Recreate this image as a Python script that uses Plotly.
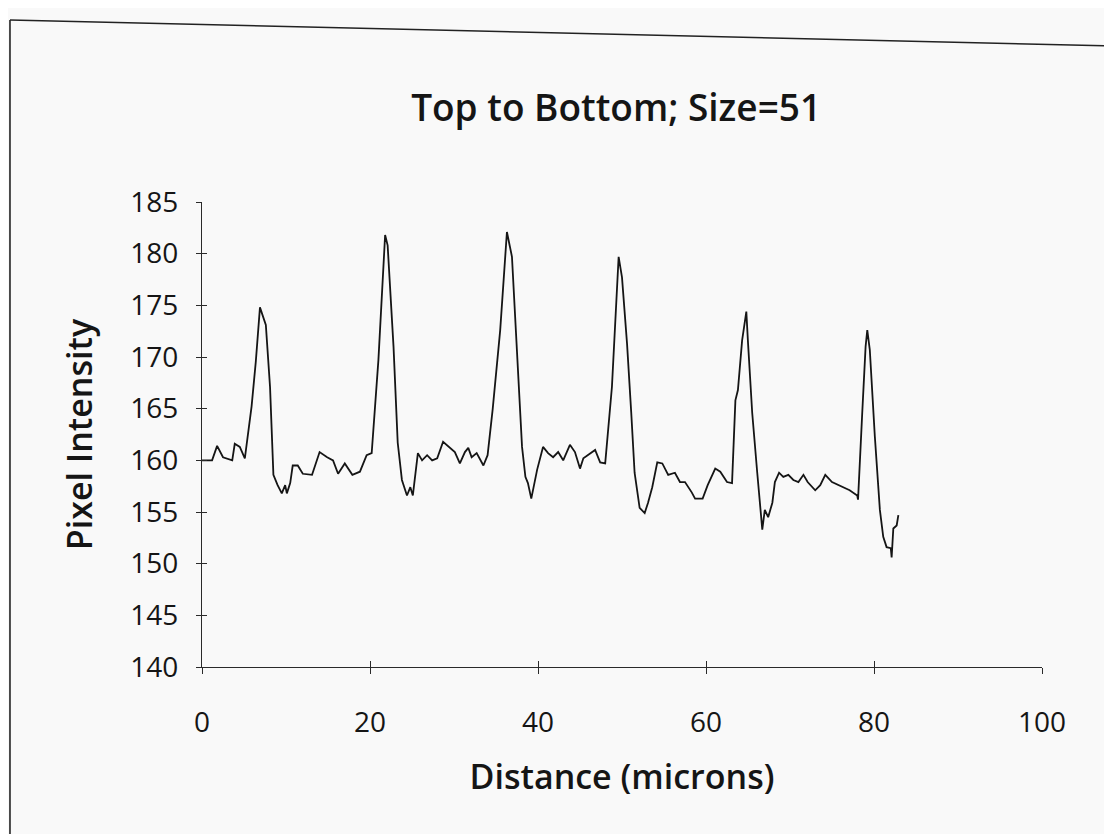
import plotly.graph_objects as go

distance = [0.0, 1.2, 1.8, 2.5, 3.6, 3.9, 4.5, 5.1, 5.9, 6.4, 6.9, 7.6, 8.1, 8.5, 9.0, 9.5, 9.9, 10.1,
            10.5, 10.8, 11.4, 12.0, 13.1, 14.0, 14.9, 15.6, 16.2, 17.0, 17.9, 18.8, 19.6, 20.2, 21.0,
            21.8, 22.1, 22.8, 23.3, 23.8, 24.4, 24.8, 25.1, 25.7, 26.2, 26.8, 27.4, 28.0, 28.7, 29.5,
            30.1, 30.7, 31.3, 31.7, 32.1, 32.7, 33.5, 34.0, 34.6, 35.5, 36.3, 36.9, 37.4, 38.1, 38.5,
            38.8, 39.2, 39.9, 40.6, 41.2, 41.8, 42.4, 43.0, 43.8, 44.4, 45.0, 45.4, 46.2, 46.8, 47.4,
            48.0, 48.8, 49.6, 50.0, 50.6, 51.1, 51.5, 52.1, 52.7, 53.1, 53.6, 54.2, 54.8, 55.5, 56.3,
            56.9, 57.5, 58.3, 58.7, 59.6, 60.2, 61.1, 61.7, 62.5, 63.1, 63.5, 63.8, 64.3, 64.8, 65.0,
            65.5, 66.1, 66.7, 67.0, 67.4, 67.9, 68.2, 68.7, 69.2, 69.8, 70.4, 71.0, 71.6, 72.1, 73.0,
            73.6, 74.2, 75.0, 76.2, 77.1, 78.0, 78.1, 78.6, 79.0, 79.2, 79.5, 80.1, 80.7, 81.1, 81.5,
            82.0, 82.1, 82.3, 82.7, 82.9]
intensity = [160.0, 160.0, 161.4, 160.3, 160.0, 161.6, 161.3, 160.2, 165.2, 169.5, 174.8, 173.1, 167.1,
             158.6, 157.6, 156.8, 157.6, 156.8, 157.8, 159.5, 159.5, 158.7, 158.6, 160.8, 160.3, 160.0,
             158.7, 159.7, 158.6, 158.9, 160.5, 160.7, 169.7, 181.8, 180.8, 171.0, 161.7, 158.1, 156.6,
             157.4, 156.6, 160.7, 160.0, 160.5, 160.0, 160.2, 161.8, 161.2, 160.8, 159.7, 160.8, 161.2,
             160.3, 160.7, 159.5, 160.5, 164.9, 172.6, 182.1, 179.7, 171.9, 161.3, 158.4, 157.8, 156.3,
             159.1, 161.3, 160.7, 160.3, 160.8, 160.0, 161.5, 160.8, 159.2, 160.2, 160.7, 161.0, 159.8,
             159.7, 167.1, 179.7, 177.7, 171.3, 164.6, 158.8, 155.4, 154.9, 155.9, 157.4, 159.8, 159.7,
             158.6, 158.8, 157.9, 157.9, 156.9, 156.3, 156.3, 157.6, 159.2, 158.9, 157.9, 157.8, 165.8,
             166.8, 171.6, 174.4, 171.4, 164.6, 158.8, 153.3, 155.2, 154.5, 155.9, 157.9, 158.8, 158.4,
             158.6, 158.1, 157.9, 158.6, 157.9, 157.1, 157.6, 158.6, 157.9, 157.4, 157.1, 156.6, 156.2,
             164.6, 171.0, 172.6, 170.7, 162.3, 155.2, 152.6, 151.6, 151.5, 150.6, 153.4, 153.7, 154.7]

x_ticks = [0, 20, 40, 60, 80, 100]
y_ticks = [140, 145, 150, 155, 160, 165, 170, 175, 180, 185]
x_range = [0, 100]
y_range = [140, 185]

FONT = "'Open Sans', Lato, 'DejaVu Sans', sans-serif"
INK = "#151515"
BG = "#f9f9f9"

fig = go.Figure()
fig.add_trace(go.Scatter(x=distance, y=intensity, mode="lines",
                         line=dict(color=INK, width=1.8), showlegend=False, hoverinfo="x+y"))
# invisible trace carrying the overlay axes used for the inner half of the crossing ticks
fig.add_trace(go.Scatter(x=x_range, y=y_range, mode="markers", xaxis="x2", yaxis="y2",
                         marker=dict(opacity=0), showlegend=False, hoverinfo="skip"))

axis_common = dict(showgrid=False, zeroline=False)

fig.update_layout(
    width=1104, height=826,
    margin=dict(l=194, r=70, t=194, b=167),
    paper_bgcolor=BG, plot_bgcolor=BG,
    font=dict(family=FONT, color=INK, size=28),
    title=dict(text="Top to Bottom; Size=51", xref="paper", x=0.493, xanchor="center",
               yref="container", y=0.879, yanchor="middle",
               font=dict(size=37, family=FONT, color=INK, weight=600)),
    xaxis=dict(range=x_range, tickvals=x_ticks, **axis_common,
               showline=True, linecolor="#2a2a2a", linewidth=1.3,
               ticks="outside", ticklen=6, tickwidth=1.3, tickcolor="#2a2a2a",
               ticklabelstandoff=24, tickfont=dict(size=28),
               title=dict(text="Distance (microns)", standoff=26,
                          font=dict(size=34, weight=600))),
    yaxis=dict(range=y_range, tickvals=y_ticks, **axis_common,
               showline=True, linecolor="#2a2a2a", linewidth=1.3,
               ticks="outside", ticklen=5, tickwidth=1.3, tickcolor="#2a2a2a",
               ticklabelstandoff=12, tickfont=dict(size=28),
               title=dict(text="Pixel Intensity", standoff=27,
                          font=dict(size=34, weight=600))),
    xaxis2=dict(range=x_range, tickvals=x_ticks, overlaying="x", anchor="y2", side="bottom",
                ticks="inside", ticklen=6, tickwidth=1.3, tickcolor="#2a2a2a",
                showticklabels=False, showline=False, **axis_common),
    yaxis2=dict(range=y_range, tickvals=y_ticks, overlaying="y", anchor="x2", side="left",
                ticks="inside", ticklen=5, tickwidth=1.3, tickcolor="#2a2a2a",
                showticklabels=False, showline=False, **axis_common),
    shapes=[
        dict(type="line", xref="paper", yref="paper", x0=-0.2286, y0=1.3914, x1=1.0833, y1=1.3355,
             line=dict(color="#222222", width=1.6)),
        dict(type="line", xref="paper", yref="paper", x0=-0.2286, y0=1.3914, x1=-0.2286, y1=-0.4,
             line=dict(color="#222222", width=1.6)),
    ],
)

fig.write_html("out.html")
